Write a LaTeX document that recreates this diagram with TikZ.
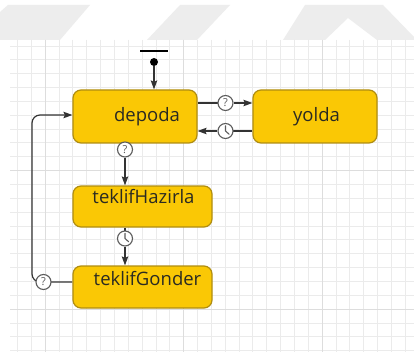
\documentclass[tikz,border=0pt]{standalone}
\usepackage{fontspec}
\setmainfont{Open Sans}
\usetikzlibrary{arrows.meta}

\definecolor{statefill}{HTML}{FAC805}
\definecolor{stateedge}{HTML}{B08D10}
\definecolor{statetext}{HTML}{2A2A22}
\definecolor{wire}{HTML}{333333}
\definecolor{markedge}{HTML}{5C5C5C}
\definecolor{gridminor}{HTML}{EBEBEB}
\definecolor{gridmajor}{HTML}{DDDDDD}
\definecolor{wmark}{HTML}{EDEDED}

\pgfdeclarelayer{paper}
\pgfdeclarelayer{wires}
\pgfsetlayers{paper,wires,main}

\tikzset{
  statebox/.style={draw=stateedge, fill=statefill, line width=1.2pt,
    rounded corners=8pt, inner sep=0pt},
  statelabel/.style={anchor=base, inner sep=0pt, text=statetext,
    font=\fontsize{18.5}{20}\selectfont},
  wireline/.style={draw=wire, line width=1.2pt},
  flow/.style={wireline, -{Stealth[length=9pt,width=6.5pt,inset=1.5pt]}},
  guard/.style={circle, draw=markedge, fill=white, line width=1.1pt,
    minimum size=15pt, inner sep=0pt, text=markedge,
    font=\fontsize{11}{11}\selectfont},
  clock/.style={guard, path picture={
      \draw[markedge, line width=1.1pt, line cap=round]
        (path picture bounding box.center) -- ++(0,-5.2)
        (path picture bounding box.center) -- ++(3.6,3.2);}},
  minorline/.style={draw=gridminor, line width=0.6pt},
  majorline/.style={draw=gridmajor, line width=0.8pt},
}

\begin{document}
\begin{tikzpicture}[x=1pt, y=-1pt]
  \useasboundingbox (0,0) rectangle (414,358);

  % paper: watermark strokes and the editor grid
  \begin{pgfonlayer}{paper}
    \fill[white] (0,0) rectangle (414,358);
    \fill[wmark] (8,5) -- (90,5) -- (60,40) -- (0,40) -- (0,12) -- cycle;
    \fill[wmark] (180,5) -- (230,5) -- (197,40) -- (147,40) -- cycle;
    \fill[wmark] (283,40) -- (305,5) -- (383,5) -- (414,37) -- (414,40)
      -- (377,40) -- (348,18) -- (325,40) -- cycle;
    \foreach \i in {-2,...,26} {
      \pgfmathsetmacro{\gx}{45+\i*13.85}
      \draw[minorline] (\gx,40) -- (\gx,352);
    }
    \foreach \k in {-3,...,19} {
      \pgfmathsetmacro{\gy}{309-\k*13.85}
      \draw[minorline] (10,\gy) -- (414,\gy);
    }
    \foreach \gx in {45,183.5,322} \draw[majorline] (\gx,40) -- (\gx,352);
    \foreach \gy in {170.5,309} \draw[majorline] (10,\gy) -- (414,\gy);
  \end{pgfonlayer}

  % states
  \node[statebox, minimum width=124pt, minimum height=53pt] (depoda) at (135,116.5) {};
  \node[statebox, minimum width=124pt, minimum height=53pt] (yolda) at (315,116.5) {};
  \node[statebox, minimum width=139pt, minimum height=41pt] (hazirla) at (142.5,206.5) {};
  \node[statebox, minimum width=139pt, minimum height=42pt] (gonder) at (142.5,287) {};

  \node[statelabel] (tdepoda) at (147,122) {depoda};
  \node[statelabel] (tyolda) at (316.5,122) {yolda};
  \node[statelabel] (thazirla) at (143.5,203) {teklifHazirla};
  \node[statelabel] (tgonder) at (147.5,285.5) {teklifGonder};

  % initial pseudo-state
  \node[fill=black, minimum width=28pt, minimum height=2.6pt, inner sep=0pt] (initbar) at (154,51) {};
  \node[circle, fill=black, minimum size=8pt, inner sep=0pt] (init) at (154,62) {};

  % transition markers
  \node[guard] (g1) at (225.5,103) {?};
  \node[clock] (c1) at (225.5,131) {};
  \node[guard] (g2) at (125,149.5) {?};
  \node[clock] (c2) at (125,238.5) {};
  \node[guard] (g3) at (43.5,282) {?};

  \coordinate (fbbot) at (32,282);
  \coordinate (fbtop) at (32,115);

  % transitions
  \begin{pgfonlayer}{wires}
    \draw[flow] (init) -- (init |- depoda.north);

    \draw[wireline] (depoda.east |- g1) -- (g1.center);
    \draw[flow] (g1) -- (yolda.west |- g1);

    \draw[wireline] (yolda.west |- c1) -- (c1.center);
    \draw[flow] (c1) -- (depoda.east |- c1);

    \draw[wireline] (depoda.south -| g2) -- (g2.center);
    \draw[flow] (g2) -- (hazirla.north -| g2);

    \draw[wireline] (hazirla.south -| c2) -- (c2.center);
    \draw[flow] (c2) -- (gonder.north -| c2);

    \draw[flow, rounded corners=8pt] (gonder.west |- g3) -- (fbbot) -- (fbtop)
      -- (depoda.west |- fbtop);
  \end{pgfonlayer}
\end{tikzpicture}
\end{document}
